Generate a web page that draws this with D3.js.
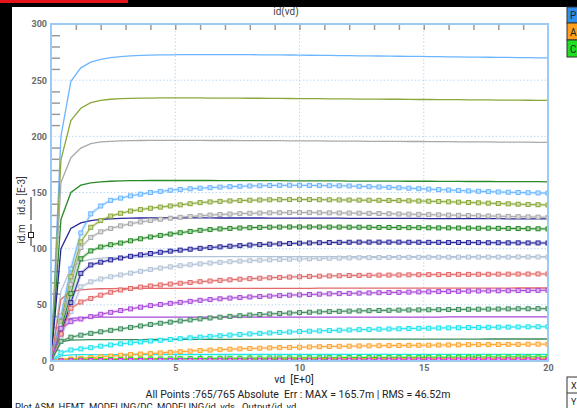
<!DOCTYPE html>
<html>
<head>
<meta charset="utf-8">
<script src="https://cdn.jsdelivr.net/npm/d3@7"></script>
<style>
  html, body { margin: 0; padding: 0; background: #000; }
  svg { display: block; font-family: Roboto, "Liberation Sans", sans-serif; }
</style>
</head>
<body>
<svg id="chart" width="577" height="408"></svg>
<script>
// Drain voltage sweep (V)
const vd = [
  0, 0.4, 0.8, 1.2, 1.6, 2, 2.4, 2.8, 3.2, 3.6,
  4, 4.4, 4.8, 5.2, 5.6, 6, 6.4, 6.8, 7.2, 7.6,
  8, 8.4, 8.8, 9.2, 9.6, 10, 10.4, 10.8, 11.2, 11.6,
  12, 12.4, 12.8, 13.2, 13.6, 14, 14.4, 14.8, 15.2, 15.6,
  16, 16.4, 16.8, 17.2, 17.6, 18, 18.4, 18.8, 19.2, 19.6,
  20
];

// Curve colours, one per gate bias
const colors = ["#6db6ff", "#8aa83a", "#a9a9a9", "#2a8a2a", "#27279a", "#b3c3d6",
                "#e26a6a", "#a84ad8", "#3d8c5c", "#1fe3ef", "#ffa52e", "#22dd22", "#e020e0"];

// Simulated drain current id.s (mA)
const sim1 = [0, 200, 249, 261, 266, 268.5, 270, 271, 271.6, 272,
  272.3, 272.5, 272.6, 272.7, 272.8, 272.8, 272.8, 272.8, 272.8, 272.7,
  272.7, 272.6, 272.6, 272.5, 272.4, 272.3, 272.2, 272.1, 272, 271.9,
  271.8, 271.7, 271.6, 271.5, 271.4, 271.3, 271.2, 271.1, 271, 270.9,
  270.8, 270.7, 270.6, 270.5, 270.4, 270.3, 270.2, 270.1, 270, 269.9,
  269.8];
const sim2 = [0, 179, 214, 225, 230, 232, 233, 233.5, 233.8, 234,
  234.1, 234.2, 234.2, 234.2, 234.2, 234.2, 234.1, 234.1, 234, 234,
  233.9, 233.9, 233.8, 233.8, 233.7, 233.6, 233.6, 233.5, 233.4, 233.4,
  233.3, 233.2, 233.2, 233.1, 233, 233, 232.9, 232.8, 232.8, 232.7,
  232.6, 232.6, 232.5, 232.4, 232.4, 232.3, 232.2, 232.2, 232.1, 232,
  232];
const sim3 = [0, 159, 181, 189.5, 193.5, 195, 195.6, 196, 196.2, 196.3,
  196.4, 196.4, 196.4, 196.4, 196.4, 196.4, 196.3, 196.3, 196.3, 196.2,
  196.2, 196.2, 196.1, 196.1, 196, 196, 195.9, 195.9, 195.8, 195.8,
  195.7, 195.7, 195.6, 195.6, 195.5, 195.5, 195.4, 195.4, 195.3, 195.3,
  195.2, 195.1, 195.1, 195, 195, 194.9, 194.9, 194.8, 194.8, 194.7,
  194.7];
const sim4 = [0, 126, 150, 156.5, 158.5, 159.5, 160, 160.3, 160.5, 160.6,
  160.7, 160.7, 160.7, 160.7, 160.7, 160.7, 160.7, 160.6, 160.6, 160.6,
  160.6, 160.5, 160.5, 160.5, 160.4, 160.4, 160.4, 160.3, 160.3, 160.3,
  160.2, 160.2, 160.2, 160.1, 160.1, 160.1, 160, 160, 160, 159.9,
  159.9, 159.9, 159.8, 159.8, 159.8, 159.7, 159.7, 159.7, 159.6, 159.6,
  159.5];
const sim5 = [0, 100, 118, 123, 125, 126, 126.6, 127, 127.2, 127.3,
  127.4, 127.4, 127.4, 127.4, 127.4, 127.4, 127.4, 127.3, 127.3, 127.3,
  127.3, 127.3, 127.2, 127.2, 127.2, 127.2, 127.1, 127.1, 127.1, 127.1,
  127, 127, 127, 127, 126.9, 126.9, 126.9, 126.9, 126.8, 126.8,
  126.8, 126.8, 126.7, 126.7, 126.7, 126.7, 126.6, 126.6, 126.6, 126.6,
  126.5];
const sim6 = [0, 62, 83, 88.5, 90.5, 91.5, 92, 92.4, 92.6, 92.8,
  92.9, 93, 93, 93, 93, 93, 93, 93, 93, 93,
  93, 93, 93, 93, 93, 93, 93, 93, 93, 93,
  93, 93, 93, 93, 93, 93, 93, 93, 93, 93,
  93, 93, 93, 93, 93, 93, 93, 93, 93, 93,
  93];
const sim7 = [0, 55, 61.5, 63.3, 64, 64.3, 64.5, 64.6, 64.7, 64.7,
  64.7, 64.7, 64.7, 64.7, 64.7, 64.7, 64.7, 64.7, 64.7, 64.7,
  64.7, 64.7, 64.7, 64.7, 64.7, 64.7, 64.7, 64.8, 64.8, 64.8,
  64.8, 64.8, 64.8, 64.8, 64.8, 64.8, 64.8, 64.8, 64.9, 64.9,
  64.9, 64.9, 64.9, 64.9, 64.9, 64.9, 64.9, 65, 65, 65,
  65];
const sim8 = [0, 35.5, 38, 38.6, 38.9, 39, 39, 39, 39, 39,
  39, 39, 39, 39, 39, 39, 39, 39, 39, 39,
  39, 39, 39, 39, 39, 39, 39, 39.1, 39.1, 39.1,
  39.1, 39.1, 39.1, 39.1, 39.1, 39.1, 39.1, 39.1, 39.1, 39.1,
  39.2, 39.2, 39.2, 39.2, 39.2, 39.2, 39.2, 39.2, 39.2, 39.2,
  39.2];
const sim9 = [0, 17, 18.5, 18.8, 19, 19, 19.1, 19.1, 19.1, 19.1,
  19.2, 19.2, 19.2, 19.2, 19.2, 19.2, 19.2, 19.3, 19.3, 19.3,
  19.3, 19.3, 19.3, 19.3, 19.3, 19.4, 19.4, 19.4, 19.4, 19.4,
  19.4, 19.4, 19.4, 19.4, 19.5, 19.5, 19.5, 19.5, 19.5, 19.5,
  19.5, 19.5, 19.5, 19.5, 19.6, 19.6, 19.6, 19.6, 19.6, 19.6,
  19.6];
const sim10 = [0, 4.5, 5.4, 5.6, 5.7, 5.7, 5.7, 5.7, 5.8, 5.8,
  5.8, 5.8, 5.8, 5.8, 5.8, 5.8, 5.8, 5.8, 5.8, 5.8,
  5.8, 5.8, 5.8, 5.8, 5.8, 5.8, 5.8, 5.8, 5.8, 5.8,
  5.9, 5.9, 5.9, 5.9, 5.9, 5.9, 5.9, 5.9, 5.9, 5.9,
  5.9, 5.9, 5.9, 5.9, 5.9, 5.9, 5.9, 5.9, 5.9, 5.9,
  5.9];
const sim11 = [0, 1.6, 2, 2.1, 2.1, 2.1, 2.2, 2.2, 2.2, 2.2,
  2.2, 2.2, 2.2, 2.2, 2.2, 2.2, 2.2, 2.2, 2.2, 2.2,
  2.2, 2.2, 2.2, 2.2, 2.2, 2.2, 2.2, 2.2, 2.2, 2.2,
  2.3, 2.3, 2.3, 2.3, 2.3, 2.3, 2.3, 2.3, 2.3, 2.3,
  2.3, 2.3, 2.3, 2.3, 2.3, 2.3, 2.3, 2.3, 2.3, 2.3,
  2.3];
const sim12 = [0, 0.5, 0.6, 0.6, 0.6, 0.6, 0.6, 0.6, 0.6, 0.6,
  0.6, 0.6, 0.6, 0.6, 0.6, 0.6, 0.6, 0.6, 0.6, 0.6,
  0.7, 0.7, 0.7, 0.7, 0.7, 0.7, 0.7, 0.7, 0.7, 0.7,
  0.7, 0.7, 0.7, 0.7, 0.7, 0.7, 0.7, 0.7, 0.7, 0.7,
  0.7, 0.7, 0.7, 0.7, 0.7, 0.7, 0.7, 0.7, 0.7, 0.7,
  0.7];
const sim13 = [0, 0.1, 0.1, 0.1, 0.1, 0.1, 0.1, 0.1, 0.1, 0.1,
  0.1, 0.1, 0.1, 0.1, 0.1, 0.1, 0.1, 0.1, 0.1, 0.1,
  0.2, 0.2, 0.2, 0.2, 0.2, 0.2, 0.2, 0.2, 0.2, 0.2,
  0.2, 0.2, 0.2, 0.2, 0.2, 0.2, 0.2, 0.2, 0.2, 0.2,
  0.2, 0.2, 0.2, 0.2, 0.2, 0.2, 0.2, 0.2, 0.2, 0.2,
  0.2];

// Measured drain current id.m (mA)
const meas1 = [0, 40, 82, 114, 131, 138, 143, 145, 147, 148.5,
  150, 151, 152, 152.7, 153.3, 153.8, 154.3, 154.8, 155.2, 155.5,
  155.8, 156, 156.2, 156.3, 156.4, 156.4, 156.3, 156.2, 156.1, 156,
  155.8, 155.5, 155.2, 154.9, 154.6, 154.2, 153.8, 153.4, 153, 152.6,
  152.2, 151.8, 151.4, 151.1, 150.8, 150.5, 150.2, 150, 149.8, 149.6,
  149.4];
const meas2 = [0, 35, 75, 106, 119, 125, 129, 131.5, 133.5, 134.8,
  136, 137, 138, 139, 140, 141, 141.6, 142.1, 142.5, 142.8,
  143.1, 143.3, 143.5, 143.6, 143.7, 143.7, 143.7, 143.6, 143.5, 143.4,
  143.3, 143.2, 143.1, 143, 142.9, 142.8, 142.6, 142.4, 142.2, 142,
  141.7, 141.4, 141.1, 140.8, 140.5, 140.2, 139.9, 139.6, 139.3, 139.1,
  138.9];
const meas3 = [0, 32, 68, 101, 110, 115, 118, 120.3, 122.2, 123.8,
  125.1, 126.2, 127.1, 127.9, 128.6, 129.3, 129.9, 130.4, 130.8, 131.2,
  131.5, 131.7, 131.9, 132, 132.1, 132.1, 132.1, 132, 131.9, 131.8,
  131.7, 131.6, 131.4, 131.3, 131.1, 130.9, 130.7, 130.5, 130.3, 130.1,
  129.9, 129.7, 129.5, 129.3, 129.1, 128.9, 128.7, 128.5, 128.3, 128.1,
  127.9];
const meas4 = [0, 28, 60, 91, 98, 101.5, 103.5, 105, 107, 108.8,
  110.4, 111.8, 113, 114.2, 115.3, 116.3, 117, 117.6, 118, 118.4,
  118.7, 118.9, 119.1, 119.2, 119.3, 119.3, 119.3, 119.3, 119.2, 119.2,
  119.1, 119.1, 119, 118.9, 118.9, 118.8, 118.7, 118.7, 118.6, 118.5,
  118.5, 118.4, 118.3, 118.2, 118.2, 118.1, 118, 117.9, 117.8, 117.7,
  117.6];
const meas5 = [0, 24, 52, 78, 85.5, 88, 90, 91.7, 93.2, 94.5,
  95.7, 96.8, 97.8, 98.7, 99.5, 100.3, 101, 101.6, 102.2, 102.7,
  103.2, 103.6, 104, 104.3, 104.6, 104.9, 105.1, 105.3, 105.5, 105.6,
  105.7, 105.8, 105.8, 105.8, 105.8, 105.8, 105.7, 105.7, 105.6, 105.6,
  105.5, 105.5, 105.4, 105.4, 105.3, 105.3, 105.2, 105.2, 105.1, 105.1,
  105];
const meas6 = [0, 20, 44, 66, 70.5, 73, 75, 76.6, 78.2, 79.9,
  81.5, 82.7, 83.8, 84.8, 85.7, 86.5, 87.2, 87.8, 88.4, 88.9,
  89.3, 89.7, 90, 90.3, 90.6, 90.8, 91, 91.2, 91.4, 91.6,
  91.8, 91.9, 92, 92.1, 92.2, 92.3, 92.3, 92.3, 92.4, 92.4,
  92.4, 92.4, 92.5, 92.5, 92.5, 92.5, 92.5, 92.6, 92.6, 92.6,
  92.6];
const meas7 = [0, 24, 47, 52.5, 55.7, 58.6, 61.2, 63.2, 64.6, 65.8,
  66.8, 67.7, 68.5, 69.2, 69.9, 70.6, 71.2, 71.8, 72.3, 72.8,
  73.3, 73.7, 74.1, 74.4, 74.7, 75, 75.3, 75.5, 75.7, 75.9,
  76.1, 76.2, 76.3, 76.4, 76.5, 76.6, 76.7, 76.8, 76.9, 76.9,
  77, 77.1, 77.1, 77.2, 77.2, 77.3, 77.3, 77.4, 77.4, 77.5,
  77.5];
const meas8 = [0, 29, 35, 37.4, 39.5, 41.6, 43.3, 44.9, 46.4, 47.9,
  49.3, 50.3, 51.3, 52.2, 53.1, 54, 54.7, 55.4, 56, 56.5,
  57, 57.4, 57.8, 58.2, 58.6, 58.9, 59.2, 59.5, 59.8, 60,
  60.2, 60.4, 60.6, 60.8, 61, 61.1, 61.3, 61.5, 61.6, 61.8,
  61.9, 62, 62.2, 62.3, 62.4, 62.5, 62.6, 62.7, 62.8, 62.9,
  63];
const meas9 = [0, 17.5, 21.2, 23, 24.6, 26, 27.3, 28.6, 29.9, 31.2,
  32.5, 33.6, 34.6, 35.6, 36.6, 37.5, 38.3, 39, 39.7, 40.3,
  40.9, 41.4, 41.9, 42.3, 42.7, 43.1, 43.4, 43.7, 44, 44.2,
  44.4, 44.6, 44.8, 45, 45.1, 45.3, 45.4, 45.5, 45.6, 45.7,
  45.8, 45.9, 46, 46.1, 46.2, 46.3, 46.4, 46.5, 46.5, 46.6,
  46.6];
const meas10 = [0, 7.2, 9.8, 10.8, 11.9, 13.2, 14.3, 15.3, 16.2, 17,
  17.8, 18.5, 19.2, 19.9, 20.6, 21.3, 21.9, 22.5, 23.1, 23.6,
  24.1, 24.6, 25, 25.4, 25.8, 26.2, 26.5, 26.8, 27.1, 27.4,
  27.6, 27.9, 28.1, 28.3, 28.5, 28.7, 28.9, 29.1, 29.2, 29.4,
  29.5, 29.6, 29.8, 29.9, 30, 30.1, 30.2, 30.3, 30.4, 30.5,
  30.5];
const meas11 = [0, 0.8, 1.8, 2.4, 3, 3.7, 4.4, 5.1, 5.7, 6.2,
  6.6, 7.2, 7.8, 8.3, 8.8, 9.3, 9.7, 10.1, 10.5, 10.8,
  11.1, 11.4, 11.7, 11.9, 12.1, 12.3, 12.5, 12.7, 12.9, 13.1,
  13.2, 13.4, 13.5, 13.6, 13.7, 13.8, 13.9, 14, 14.1, 14.2,
  14.3, 14.4, 14.5, 14.6, 14.6, 14.7, 14.8, 14.8, 14.9, 15,
  15];
const meas12 = [0, 0.4, 0.8, 1, 1.2, 1.3, 1.4, 1.5, 1.6, 1.7,
  1.8, 1.9, 2, 2.1, 2.2, 2.2, 2.3, 2.4, 2.4, 2.5,
  2.6, 2.6, 2.7, 2.7, 2.8, 2.8, 2.9, 2.9, 3, 3,
  3.1, 3.1, 3.2, 3.2, 3.2, 3.3, 3.3, 3.3, 3.4, 3.4,
  3.4, 3.5, 3.5, 3.5, 3.6, 3.6, 3.6, 3.7, 3.7, 3.7,
  3.8];
const meas13 = [0, 0.1, 0.2, 0.2, 0.3, 0.3, 0.3, 0.4, 0.4, 0.4,
  0.4, 0.5, 0.5, 0.5, 0.5, 0.5, 0.6, 0.6, 0.6, 0.6,
  0.6, 0.6, 0.7, 0.7, 0.7, 0.7, 0.7, 0.7, 0.8, 0.8,
  0.8, 0.8, 0.8, 0.8, 0.8, 0.9, 0.9, 0.9, 0.9, 0.9,
  0.9, 0.9, 0.9, 1, 1, 1, 1, 1, 1, 1,
  1];

const simSeries = [sim1, sim2, sim3, sim4, sim5, sim6, sim7, sim8, sim9, sim10, sim11, sim12, sim13];
const measSeries = [meas1, meas2, meas3, meas4, meas5, meas6, meas7, meas8, meas9, meas10, meas11, meas12, meas13];

// Axis ticks
const xTickLabels = [0, 5, 10, 15, 20];
const yTickLabels = [0, 50, 100, 150, 200, 250, 300];
const xMinorTicks = d3.range(1, 20);
const yMinorTicks = d3.range(10, 300, 10);

const svg = d3.select("#chart");
const W = 577, H = 408;

// Window frame
svg.append("rect").attr("x", 0).attr("y", 0).attr("width", W).attr("height", H).attr("fill", "#000");
svg.append("rect").attr("x", 12).attr("y", 7).attr("width", W - 12).attr("height", H - 7).attr("fill", "#fff");
svg.append("rect").attr("x", 0).attr("y", 0).attr("width", 128).attr("height", 3).attr("fill", "#e8141b");

const pL = 51, pR = 548, pT = 24, pB = 361;
const x = d3.scaleLinear().domain([0, 20]).range([pL, pR]);
const y = d3.scaleLinear().domain([0, 300]).range([pB, pT]);

// Dotted grid
const grid = svg.append("g").attr("stroke", "#b8d8f4").attr("stroke-width", 1).attr("stroke-dasharray", "1.5,2");
grid.selectAll("line.gx").data([5, 10, 15]).join("line")
  .attr("x1", d => x(d)).attr("x2", d => x(d)).attr("y1", pT).attr("y2", pB);
grid.selectAll("line.gy").data([50, 100, 150, 200, 250]).join("line")
  .attr("x1", pL).attr("x2", pR).attr("y1", d => y(d)).attr("y2", d => y(d));

// Minor ticks inside the frame
function styleTicks(g) {
  g.select(".domain").remove();
  g.selectAll("text").remove();
  g.selectAll("line").attr("stroke", "#9a9a9a").attr("stroke-width", 1.5);
}
svg.append("g").attr("transform", `translate(0,${pT})`)
  .call(d3.axisBottom(x).tickValues(xMinorTicks).tickSize(6)).call(styleTicks);
svg.append("g").attr("transform", `translate(0,${pB})`)
  .call(d3.axisTop(x).tickValues(xMinorTicks).tickSize(6)).call(styleTicks);
svg.append("g").attr("transform", `translate(${pL},0)`)
  .call(d3.axisRight(y).tickValues(yMinorTicks.filter(v => v % 50 !== 0)).tickSize(9)).call(styleTicks);

// Curves
const clip = svg.append("clipPath").attr("id", "plotclip");
clip.append("rect").attr("x", pL).attr("y", pT).attr("width", pR - pL).attr("height", pB - pT);
const plot = svg.append("g").attr("clip-path", "url(#plotclip)");

const line = d3.line().x((d, i) => x(vd[i])).y(d => y(d));

measSeries.forEach((s, k) => {
  plot.append("path").attr("d", line(s)).attr("fill", "none")
    .attr("stroke", colors[k]).attr("stroke-opacity", 0.28).attr("stroke-width", 3);
});
simSeries.forEach((s, k) => {
  plot.append("path").attr("d", line(s)).attr("fill", "none")
    .attr("stroke", colors[k]).attr("stroke-width", 1.3);
});
measSeries.forEach((s, k) => {
  plot.append("path").attr("d", line(s)).attr("fill", "none")
    .attr("stroke", colors[k]).attr("stroke-width", 1);
  const light = d3.interpolateRgb(colors[k], "#fff")(0.6);
  plot.selectAll(null).data(s).join("rect")
    .attr("x", (d, i) => x(vd[i]) - 2).attr("y", d => y(d) - 2)
    .attr("width", 4).attr("height", 4)
    .attr("fill", light).attr("stroke", colors[k]).attr("stroke-width", 1);
});

// Frame
svg.append("rect").attr("x", pL).attr("y", pT).attr("width", pR - pL).attr("height", pB - pT)
  .attr("fill", "none").attr("stroke", "#9ccaf4").attr("stroke-width", 2);

// Tick labels
const yAxis = svg.append("g").attr("transform", `translate(${pL},0)`)
  .call(d3.axisLeft(y).tickValues(yTickLabels).tickSize(0).tickPadding(4));
yAxis.select(".domain").remove();
yAxis.selectAll("text").attr("fill", "#6a6a6a").attr("font-size", 9).attr("font-weight", "bold")
  .attr("font-family", "Roboto, sans-serif");
const xAxis = svg.append("g").attr("transform", `translate(0,${pB})`)
  .call(d3.axisBottom(x).tickValues(xTickLabels).tickSize(0).tickPadding(4));
xAxis.select(".domain").remove();
xAxis.selectAll("text").attr("fill", "#6a6a6a").attr("font-size", 9).attr("font-weight", "bold")
  .attr("font-family", "Roboto, sans-serif");

// Titles
svg.append("text").attr("x", 286).attr("y", 15).attr("text-anchor", "middle")
  .attr("font-size", 10).attr("fill", "#444").text("id(vd)");
svg.append("text").attr("x", 294).attr("y", 383).attr("text-anchor", "middle")
  .attr("font-size", 10.5).attr("fill", "#222").attr("xml:space", "preserve").text("vd  [E+0]");
svg.append("text").attr("x", 298).attr("y", 398).attr("text-anchor", "middle")
  .attr("font-size", 10.5).attr("fill", "#222").attr("xml:space", "preserve")
  .text("All Points :765/765 Absolute  Err : MAX = 165.7m | RMS = 46.52m");
svg.append("text").attr("x", 15).attr("y", 410).attr("font-size", 9.5).attr("fill", "#222")
  .attr("xml:space", "preserve").text("Plot ASM_HEMT_MODELING/DC_MODELING/id_vds   Output/id_vd");

// Y-axis title with series key
const yl = svg.append("g").attr("font-size", 10).attr("fill", "#333");
[["[E-3]", 186], ["id.s", 207], ["id.m", 234]].forEach(([t, cy]) => {
  yl.append("text").attr("transform", `translate(25,${cy}) rotate(-90)`)
    .attr("text-anchor", "middle").text(t);
});
svg.append("line").attr("x1", 31).attr("x2", 31).attr("y1", 197).attr("y2", 220)
  .attr("stroke", "#222").attr("stroke-width", 1);
svg.append("line").attr("x1", 31).attr("x2", 31).attr("y1", 224).attr("y2", 246)
  .attr("stroke", "#222").attr("stroke-width", 1);
svg.append("rect").attr("x", 28.5).attr("y", 232.5).attr("width", 5).attr("height", 5)
  .attr("fill", "#fff").attr("stroke", "#222").attr("stroke-width", 1);

// Side panel buttons
const btns = [["P", "#2f8ff0", 7, 16], ["A", "#ff9f1c", 23, 17], ["C", "#1ee01e", 40, 17]];
btns.forEach(([t, c, by, bh]) => {
  svg.append("rect").attr("x", 567).attr("y", by).attr("width", 14).attr("height", bh)
    .attr("fill", c).attr("stroke", "#333").attr("stroke-width", 1);
  svg.append("text").attr("x", 570).attr("y", by + bh / 2 + 4).attr("font-size", 10)
    .attr("fill", "#222").text(t);
});
svg.append("rect").attr("x", 567).attr("y", 377).attr("width", 14).attr("height", 32)
  .attr("fill", "#fff").attr("stroke", "#333").attr("stroke-width", 1);
svg.append("line").attr("x1", 567).attr("x2", 577).attr("y1", 393).attr("y2", 393)
  .attr("stroke", "#333").attr("stroke-width", 1);
svg.append("text").attr("x", 571).attr("y", 389).attr("font-size", 9).attr("fill", "#222").text("X");
svg.append("text").attr("x", 571).attr("y", 405).attr("font-size", 9).attr("fill", "#222").text("Y");
</script>
</body>
</html>
